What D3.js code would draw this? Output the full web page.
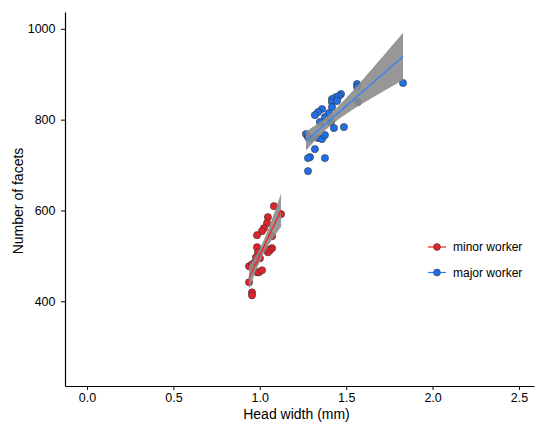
<!DOCTYPE html>
<html><head><meta charset="utf-8">
<script src="https://cdn.jsdelivr.net/npm/d3@7"></script>
<style>body{margin:0;background:#fff}svg{display:block}</style>
</head><body>
<svg id="c" width="536" height="430"></svg>
<script>
const seriesNames = ["minor worker", "major worker"];
const seriesColors = ["#e3232a", "#1f6fe6"];
const lineColors = ["#ff1a1a", "#2b7fff"];
const minorX = [1.082,1.123,1.047,1.042,1.024,1.013,0.984,1.071,0.984,1.071,1.059,0.990,1.047,0.978,1.001,0.938,0.955,0.984,0.995,1.013,0.938,0.955,0.955,0.972,1.036];
const minorY = [609.5,591.8,585.2,572.0,561.0,554.4,545.6,543.3,519.1,516.9,512.5,508.0,508.0,497.0,494.8,477.2,481.6,463.9,463.9,468.4,441.9,419.8,413.2,486.0,514.7];
const majorX = [1.829,1.563,1.563,1.470,1.458,1.441,1.418,1.418,1.447,1.418,1.360,1.337,1.319,1.377,1.348,1.412,1.487,1.429,1.568,1.267,1.279,1.296,1.337,1.360,1.377,1.319,1.291,1.279,1.377,1.279,1.400];
const majorY = [880.7,878.5,871.9,856.4,852.0,849.8,845.4,838.8,841.0,827.8,823.4,816.7,810.1,805.7,794.7,794.7,783.7,781.5,838.8,768.2,761.6,759.4,759.4,757.2,766.0,735.2,717.5,715.3,715.3,686.7,814.5];
const xTicks = [0, 0.5, 1.0, 1.5, 2.0, 2.5];
const yTicks = [400, 600, 800, 1000];

const svg = d3.select("#c");
const L = 65, R = 534, T = 12, B = 386;
const x = d3.scaleLinear().domain([-0.1273, 2.587]).range([L, R]);
const y = d3.scaleLinear().domain([213.5, 1037]).range([B, T]);
const font = "Liberation Sans, Arial, Helvetica, sans-serif";

function fit(xs, ys) {
  const n = xs.length, mx = d3.mean(xs), my = d3.mean(ys);
  let sxx = 0, sxy = 0;
  for (let i = 0; i < n; i++) { sxx += (xs[i]-mx)**2; sxy += (xs[i]-mx)*(ys[i]-my); }
  const b = sxy / sxx, a = my - b*mx;
  let sse = 0;
  for (let i = 0; i < n; i++) sse += (ys[i] - a - b*xs[i])**2;
  const s = Math.sqrt(sse/(n-2));
  const t = 2.05;
  const x0 = d3.min(xs), x1 = d3.max(xs);
  return d3.range(0, 81).map(k => {
    const xv = x0 + (x1-x0)*k/80;
    const yh = a + b*xv;
    const se = s*Math.sqrt(1/n + (xv-mx)**2/sxx);
    return {x: xv, y: yh, lo: yh - t*se, hi: yh + t*se};
  });
}

const groups = [[minorX, minorY], [majorX, majorY]];

groups.forEach(([xs, ys], gi) => {
  svg.append("g").selectAll("circle").data(xs.map((v,i)=>[v, ys[i]])).join("circle")
    .attr("cx", d => x(d[0])).attr("cy", d => y(d[1])).attr("r", 3.6)
    .attr("fill", seriesColors[gi]).attr("stroke", "#333").attr("stroke-width", 0.6);
});
groups.forEach(([xs, ys], gi) => {
  const pts = fit(xs, ys);
  svg.append("path").datum(pts)
    .attr("d", d3.area().x(d => x(d.x)).y0(d => y(d.lo)).y1(d => y(d.hi)))
    .attr("fill", "#8c8c8c").attr("opacity", 0.9);
  svg.append("path").datum(pts)
    .attr("d", d3.line().x(d => x(d.x)).y(d => y(d.y)))
    .attr("fill", "none").attr("stroke", lineColors[gi]).attr("stroke-width", 1.2);
});

const xa = svg.append("g").attr("transform", `translate(0,${B})`)
  .call(d3.axisBottom(x).tickValues(xTicks).tickFormat(d3.format(".1f")).tickSize(4).tickSizeOuter(0));
const ya = svg.append("g").attr("transform", `translate(${L},0)`)
  .call(d3.axisLeft(y).tickValues(yTicks).tickFormat(d3.format("d")).tickSize(4).tickSizeOuter(0));
[xa, ya].forEach(a => {
  a.select(".domain").attr("stroke", "#000").attr("stroke-width", 1.2);
  a.selectAll(".tick line").attr("stroke", "#000");
  a.selectAll("text").attr("font-family", font).attr("font-size", 12.5).attr("fill", "#000");
});
ya.selectAll("text").attr("dx", "-0.2em");

svg.append("text").attr("x", (L+R)/2 - 3).attr("y", 419).attr("text-anchor", "middle")
  .attr("font-family", font).attr("font-size", 14).text("Head width (mm)");
svg.append("text").attr("transform", `translate(23,${(T+B)/2 + 2}) rotate(-90)`).attr("text-anchor", "middle")
  .attr("font-family", font).attr("font-size", 14).text("Number of facets");

seriesNames.forEach((nm, i) => {
  const gy = 247 + i*25.5;
  const g = svg.append("g");
  g.append("line").attr("x1", 428).attr("x2", 446).attr("y1", gy).attr("y2", gy)
    .attr("stroke", lineColors[i]).attr("stroke-width", 1.2);
  g.append("circle").attr("cx", 437).attr("cy", gy).attr("r", 3.4)
    .attr("fill", seriesColors[i]).attr("stroke", "#333").attr("stroke-width", 0.6);
  g.append("text").attr("x", 453).attr("y", gy + 4).attr("font-family", font).attr("font-size", 12).text(nm);
});
</script>
</body></html>
